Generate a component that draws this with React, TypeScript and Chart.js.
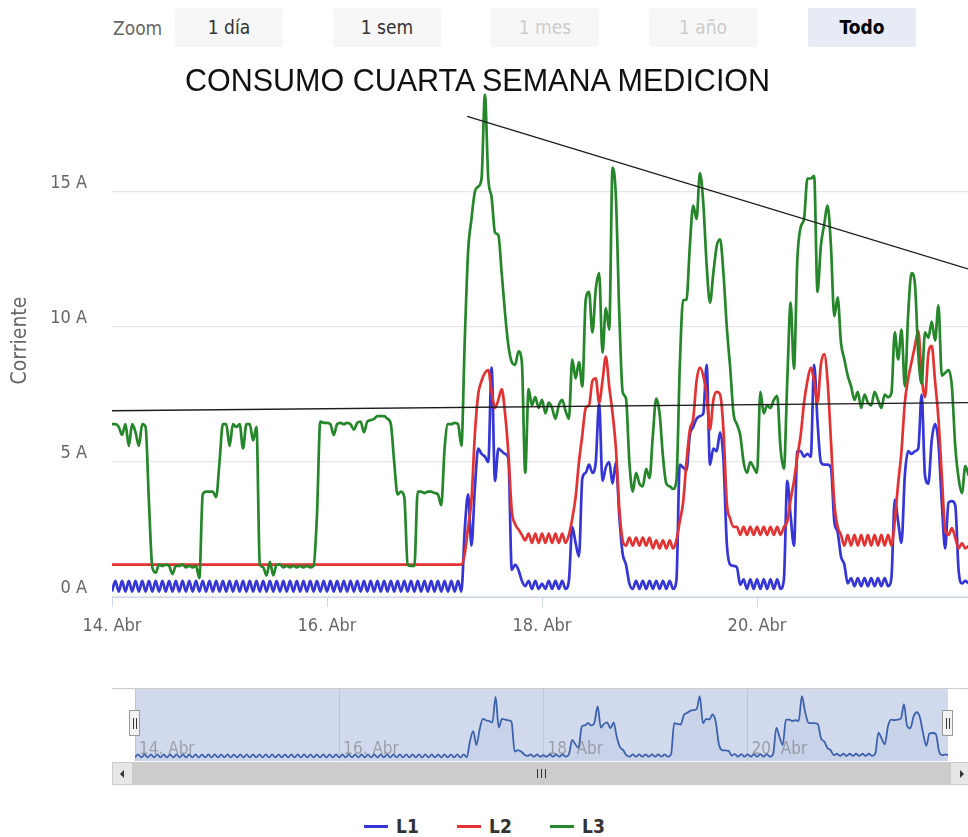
import React, { useEffect, useRef } from "react";
import { Chart, registerables } from "chart.js";

Chart.register(...registerables);

// ---- data (sampled every 45 minutes from 14. Abr 00:00) ----
const STEP_HOURS = 0.75;
const X_MAX_HOURS = 191.1;
const X_TICK_HOURS = [0, 48, 96, 144];
const X_TICK_LABELS = ["14. Abr", "16. Abr", "18. Abr", "20. Abr"];
const Y_TICKS = [0, 5, 10, 15];
const Y_MAX = 19;
const SERIES_NAMES = ["L1", "L2", "L3"];
const ZOOM_BUTTONS = ["1 día", "1 sem", "1 mes", "1 año", "Todo"];

const L1 = [
  0.2,0.6,0.2,0.6,0.2,0.6,0.2,0.6,0.2,0.6,0.2,0.6,0.2,0.6,0.2,0.6,0.2,0.6,0.2,0.6,0.2,0.6,0.2,0.6,0.2,0.6,0.2,0.6,0.2,0.6,0.2,0.6,
  0.2,0.6,0.2,0.6,0.2,0.6,0.2,0.6,0.2,0.6,0.2,0.6,0.2,0.6,0.2,0.6,0.2,0.6,0.2,0.6,0.2,0.6,0.2,0.6,0.2,0.6,0.2,0.6,0.2,0.6,0.2,0.6,
  0.2,0.6,0.2,0.6,0.2,0.6,0.2,0.6,0.2,0.6,0.2,0.6,0.2,0.6,0.2,0.6,0.2,0.6,0.2,0.6,0.2,0.6,0.2,0.6,0.2,0.6,0.2,0.6,0.2,0.6,0.2,0.6,
  0.2,0.6,0.2,0.6,0.2,0.6,0.2,0.6,0.2,2.5,3.8,1.9,4.0,5.5,5.3,5.2,5.0,8.5,4.3,5.5,5.4,5.3,5.1,1.0,1.2,1.0,0.6,0.4,0.6,0.3,0.6,0.3,
  0.5,0.3,0.6,0.3,0.6,0.3,0.6,0.3,0.6,2.6,2.0,1.5,4.4,4.6,4.9,4.6,5.0,7.2,4.3,4.8,5.0,4.2,5.0,3.0,1.6,1.2,0.5,0.3,0.6,0.3,0.6,0.3,
  0.6,0.3,0.6,0.3,0.6,0.3,0.6,0.3,0.6,4.9,4.8,4.7,6.0,6.3,6.6,6.7,6.8,8.6,4.9,5.5,5.4,6.1,5.1,2.0,1.2,1.15,1.1,0.45,0.65,0.3,0.65,0.3,
  0.65,0.3,0.65,0.3,0.65,0.3,0.65,0.3,0.65,4.3,3.0,1.9,5.4,5.4,5.2,5.3,5.2,8.6,6.5,5.0,4.9,4.9,4.8,2.8,2.4,1.5,1.2,0.5,0.7,0.4,0.7,0.4,
  0.7,0.4,0.7,0.4,0.7,0.4,0.7,0.4,0.7,3.6,2.8,2.0,4.5,5.4,5.3,5.4,5.5,7.5,4.5,4.2,5.8,6.4,5.7,3.5,1.8,3.5,3.55,3.4,1.0,0.5,0.6,0.5,
];

const L2 = [
  1.2,1.2,1.2,1.2,1.2,1.2,1.2,1.2,1.2,1.2,1.2,1.2,1.2,1.2,1.2,1.2,1.2,1.2,1.2,1.2,1.2,1.2,1.2,1.2,1.2,1.2,1.2,1.2,1.2,1.2,1.2,1.2,
  1.2,1.2,1.2,1.2,1.2,1.2,1.2,1.2,1.2,1.2,1.2,1.2,1.2,1.2,1.2,1.2,1.2,1.2,1.2,1.2,1.2,1.2,1.2,1.2,1.2,1.2,1.2,1.2,1.2,1.2,1.2,1.2,
  1.2,1.2,1.2,1.2,1.2,1.2,1.2,1.2,1.2,1.2,1.2,1.2,1.2,1.2,1.2,1.2,1.2,1.2,1.2,1.2,1.2,1.2,1.2,1.2,1.2,1.2,1.2,1.2,1.2,1.2,1.2,1.2,
  1.2,1.2,1.2,1.2,1.2,1.2,1.2,1.2,1.2,1.6,2.6,3.6,6.0,7.5,8.0,8.3,8.4,7.6,7.0,7.3,7.7,6.8,5.3,3.2,2.7,2.5,2.3,2.1,2.35,2.0,2.35,2.0,
  2.35,2.0,2.35,2.0,2.35,2.0,2.35,2.0,2.3,2.9,3.7,5.0,6.0,7.0,7.1,8.0,8.1,7.2,8.0,8.9,7.8,6.8,5.5,3.3,2.1,1.9,2.2,1.9,2.2,1.9,2.2,1.9,
  2.2,1.8,2.1,1.8,2.1,1.8,2.1,1.8,2.1,2.8,3.5,5.0,6.2,6.6,8.0,8.5,8.2,7.5,6.2,7.3,7.6,7.5,6.2,3.5,2.9,2.6,2.6,2.3,2.6,2.3,2.6,2.3,
  2.6,2.3,2.6,2.3,2.6,2.3,2.6,2.3,2.6,2.8,3.6,4.3,5.2,6.0,7.2,8.0,8.5,8.0,7.2,8.6,9.0,8.0,5.8,3.5,2.6,2.3,1.9,2.3,1.9,2.3,1.9,2.3,
  1.9,2.3,1.9,2.3,1.9,2.3,1.9,2.3,1.9,2.8,4.2,5.4,7.2,8.1,8.7,9.3,9.85,8.2,7.4,9.0,9.3,8.0,6.6,4.5,2.5,2.3,2.55,2.2,1.8,2.0,1.8,1.9,
];

const L3 = [
  6.4,6.4,6.3,6.0,6.4,5.6,6.4,6.1,5.6,6.4,6.3,3.5,1.1,0.9,1.2,1.15,1.2,1.15,0.85,1.15,1.15,1.2,1.1,1.15,1.1,1.15,0.7,3.8,3.9,3.9,3.9,3.7,
  5.0,6.4,6.4,5.6,6.4,6.3,6.4,5.5,6.4,6.4,5.8,6.3,1.2,1.1,0.8,1.3,0.8,1.2,1.2,1.1,1.15,1.1,1.15,1.1,1.15,1.1,1.15,1.1,1.15,3.0,6.5,6.45,
  6.45,6.4,6.0,6.4,6.45,6.4,6.45,6.4,6.2,6.45,6.5,6.1,6.5,6.55,6.6,6.7,6.7,6.7,6.6,6.4,5.0,3.8,3.9,3.7,1.2,1.15,1.15,3.9,3.9,3.85,3.9,3.9,
  3.85,3.8,3.4,5.5,6.4,6.4,6.45,6.4,5.6,9.5,12.8,14.0,15.0,15.2,15.5,18.6,15.5,14.8,13.5,13.4,12.0,10.5,9.3,8.7,8.6,9.1,8.7,4.6,7.7,7.1,7.4,7.0,
  7.3,6.8,7.2,7.0,6.6,7.1,7.3,6.9,6.6,8.8,8.1,8.7,7.8,11.0,11.3,9.8,11.4,12.0,9.05,10.7,9.9,15.9,14.8,10.5,7.6,7.35,5.0,3.9,4.6,4.2,4.1,4.75,
  4.4,6.0,7.35,6.8,5.2,4.2,4.1,4.0,4.3,8.5,11.0,11.0,13.0,14.5,14.0,15.7,14.6,12.3,10.9,12.0,13.0,13.25,12.0,10.0,8.5,6.8,6.4,6.0,5.0,4.6,5.0,4.8,
  4.6,7.6,6.8,7.1,7.0,7.3,7.45,5.5,4.75,8.0,10.9,8.45,12.5,13.7,14.0,15.5,15.5,15.6,11.3,13.0,13.8,14.5,13.0,10.4,11.1,9.4,8.8,8.2,7.8,7.3,7.6,7.0,
  7.5,7.2,7.1,7.6,7.3,7.0,7.5,7.4,7.55,9.8,8.8,9.9,7.8,10.5,12.0,11.6,9.0,7.9,9.8,9.6,10.2,9.5,10.8,8.2,8.3,8.4,7.8,5.6,4.4,3.85,4.85,4.5,
];

// hand-drawn trend lines (hours, amperes)
const TREND_PEAK_HOURS = [79.3, 191.1];
const TREND_PEAK_AMPS = [17.8, 12.15];
const TREND_BASE_HOURS = [0, 191.1];
const TREND_BASE_AMPS = [6.9, 7.2];

const COLORS = ["#3535d8", "#e33232", "#25862a"];
const FONT = '"DejaVu Sans Condensed", "DejaVu Sans", sans-serif';

function toPoints(hours: number[] | null, values: number[]) {
  return values.map((v, i) => ({ x: hours ? hours[i] : i * STEP_HOURS, y: v }));
}

export default function App() {
  const mainRef = useRef<HTMLCanvasElement>(null);
  const navRef = useRef<HTMLCanvasElement>(null);

  useEffect(() => {
    const series = [L1, L2, L3];
    const main = new Chart(mainRef.current as HTMLCanvasElement, {
      type: "line",
      data: {
        datasets: [
          ...series.map((s, i) => ({
            label: SERIES_NAMES[i],
            data: toPoints(null, s),
            borderColor: COLORS[i],
            backgroundColor: COLORS[i],
            borderWidth: 2.7,
            pointRadius: 0,
            cubicInterpolationMode: "monotone" as const,
            borderJoinStyle: "round" as const,
            order: 3 - i,
          })),
          {
            label: "trend1",
            data: toPoints(TREND_PEAK_HOURS, TREND_PEAK_AMPS),
            borderColor: "#1c1c1c",
            borderWidth: 1.4,
            pointRadius: 0,
            order: 0,
          },
          {
            label: "trend2",
            data: toPoints(TREND_BASE_HOURS, TREND_BASE_AMPS),
            borderColor: "#1c1c1c",
            borderWidth: 1.4,
            pointRadius: 0,
            order: 0,
          },
        ],
      },
      options: {
        animation: false,
        responsive: false,
        maintainAspectRatio: false,
        layout: { padding: { top: 84, left: 0, right: 0, bottom: 0 } },
        plugins: { legend: { display: false }, tooltip: { enabled: false }, title: { display: false } },
        scales: {
          x: {
            type: "linear",
            min: 0,
            max: X_MAX_HOURS,
            afterBuildTicks: (s: any) => {
              s.ticks = X_TICK_HOURS.map((v) => ({ value: v }));
            },
            afterFit: (s: any) => {
              s.height = 40;
            },
            grid: { drawOnChartArea: false, drawTicks: true, tickLength: 10, color: "#ccd6eb" },
            border: { color: "#ccd6eb", width: 1 },
            ticks: {
              autoSkip: false,
              maxRotation: 0,
              padding: 9,
              color: "#666666",
              font: { family: FONT, size: 18 },
              callback: (v: any) => {
                const k = X_TICK_HOURS.indexOf(Number(v));
                return k >= 0 ? X_TICK_LABELS[k] : "";
              },
            },
          },
          y: {
            min: 0,
            max: Y_MAX,
            afterBuildTicks: (s: any) => {
              s.ticks = Y_TICKS.map((v) => ({ value: v }));
            },
            afterFit: (s: any) => {
              s.width = 112;
            },
            grid: { color: "#e6e6e6", drawTicks: false, lineWidth: 1.2 },
            border: { display: false },
            ticks: {
              padding: 25,
              labelOffset: -9,
              color: "#666666",
              font: { family: FONT, size: 18 },
              callback: (v: any) => `${v} A`,
            },
            title: {
              display: true,
              text: "Corriente",
              color: "#666666",
              font: { family: FONT, size: 21 },
              padding: { top: 8, bottom: 0 },
            },
          },
        },
      },
    });

    const navPlugin = {
      id: "navMask",
      beforeDatasetsDraw(chart: any) {
        const { ctx, chartArea } = chart;
        ctx.save();
        ctx.fillStyle = "rgba(102,133,194,0.3)";
        ctx.fillRect(chartArea.left, chartArea.top, chartArea.right - chartArea.left, chartArea.bottom - chartArea.top);
        ctx.restore();
      },
      afterDatasetsDraw(chart: any) {
        const { ctx } = chart;
        const xs = chart.scales.x;
        ctx.save();
        ctx.fillStyle = "rgba(110,110,110,0.55)";
        ctx.font = `17px ${FONT}`;
        ctx.textAlign = "left";
        ctx.textBaseline = "middle";
        X_TICK_HOURS.forEach((h, i) => {
          ctx.fillText(X_TICK_LABELS[i], xs.getPixelForValue(h) + 4, 61);
        });
        ctx.restore();
      },
    };

    const nav = new Chart(navRef.current as HTMLCanvasElement, {
      type: "line",
      data: {
        datasets: [
          {
            label: "nav",
            data: toPoints(null, L1),
            borderColor: "#3d62ad",
            backgroundColor: "rgba(51,92,173,0.06)",
            fill: "start",
            borderWidth: 1.8,
            pointRadius: 0,
            cubicInterpolationMode: "monotone" as const,
          },
        ],
      },
      options: {
        animation: false,
        responsive: false,
        maintainAspectRatio: false,
        layout: { padding: { top: 0, left: 135, right: 20, bottom: 0 } },
        plugins: { legend: { display: false }, tooltip: { enabled: false } },
        scales: {
          x: {
            type: "linear",
            min: 0,
            max: X_MAX_HOURS,
            afterBuildTicks: (s: any) => {
              s.ticks = X_TICK_HOURS.map((v) => ({ value: v }));
            },
            afterFit: (s: any) => {
              s.height = 0;
            },
            grid: { color: "#dfe3ea", drawTicks: false },
            border: { display: false },
            ticks: { display: false },
          },
          y: { display: false, min: -0.3, max: 9.6 },
        },
      },
      plugins: [navPlugin],
    });

    return () => {
      main.destroy();
      nav.destroy();
    };
  }, []);

  const btnLefts = [175, 333, 491, 649, 808];
  const legendLefts = [364, 457, 550];

  return (
    <div
      style={{
        position: "absolute",
        left: 0,
        top: 0,
        width: 968,
        height: 837,
        overflow: "hidden",
        background: "#ffffff",
        fontFamily: FONT,
      }}
    >
      {/* range selector */}
      <div style={{ position: "absolute", left: 113, top: 16, fontSize: 19, color: "#666", lineHeight: "24px" }}>Zoom</div>
      {ZOOM_BUTTONS.map((b, i) => {
        const disabled = i === 2 || i === 3;
        const selected = i === 4;
        return (
          <div
            key={b}
            style={{
              position: "absolute",
              left: btnLefts[i],
              top: 8,
              width: 108,
              height: 39,
              lineHeight: "39px",
              textAlign: "center",
              fontSize: 19,
              borderRadius: 2,
              background: selected ? "#e6ebf5" : "#f7f7f7",
              color: disabled ? "#cccccc" : selected ? "#000" : "#333",
              fontWeight: selected ? "bold" : "normal",
            }}
          >
            {b}
          </div>
        );
      })}

      <canvas
        ref={mainRef}
        width={968}
        height={637}
        style={{ position: "absolute", left: 0, top: 0, width: 968, height: 637 }}
      />

      {/* title */}
      <div
        style={{
          position: "absolute",
          left: 0,
          top: 62,
          width: 955,
          textAlign: "center",
          fontFamily: '"Liberation Sans", Arial, sans-serif',
          fontSize: 30.5,
          lineHeight: "36px",
          color: "#111",
        }}
      >
        CONSUMO CUARTA SEMANA MEDICION
      </div>

      {/* navigator */}
      <div style={{ position: "absolute", left: 112, top: 688, width: 856, height: 0, borderTop: "1px solid #cccccc" }} />
      <canvas
        ref={navRef}
        width={968}
        height={72}
        style={{ position: "absolute", left: 0, top: 689, width: 968, height: 72 }}
      />
      {[135, 948].map((x) => (
        <div
          key={x}
          style={{
            position: "absolute",
            left: x - 6,
            top: 710,
            width: 11,
            height: 26,
            background: "#f2f2f2",
            border: "1px solid #999",
            boxSizing: "border-box",
          }}
        >
          <div style={{ position: "absolute", left: 3, top: 7, width: 1, height: 11, background: "#333" }} />
          <div style={{ position: "absolute", left: 6, top: 7, width: 1, height: 11, background: "#333" }} />
        </div>
      ))}

      {/* scrollbar */}
      <div style={{ position: "absolute", left: 112, top: 762, width: 856, height: 23, background: "#f2f2f2" }} />
      <div style={{ position: "absolute", left: 133, top: 762, width: 817, height: 23, background: "#cccccc" }}>
        {[0, 4, 8].map((d) => (
          <div key={d} style={{ position: "absolute", left: 404 + d, top: 7, width: 1, height: 9, background: "#333" }} />
        ))}
      </div>
      <div style={{ position: "absolute", left: 112, top: 762, width: 21, height: 23, background: "#e6e6e6", border: "1px solid #cccccc", boxSizing: "border-box" }}>
        <div style={{ position: "absolute", left: 7, top: 7, width: 0, height: 0, borderTop: "4px solid transparent", borderBottom: "4px solid transparent", borderRight: "4px solid #333" }} />
      </div>
      <div style={{ position: "absolute", left: 950, top: 762, width: 21, height: 23, background: "#e6e6e6", border: "1px solid #cccccc", boxSizing: "border-box" }}>
        <div style={{ position: "absolute", left: 9, top: 7, width: 0, height: 0, borderTop: "4px solid transparent", borderBottom: "4px solid transparent", borderLeft: "4px solid #333" }} />
      </div>

      {/* legend */}
      {SERIES_NAMES.map((n, i) => (
        <div key={n} style={{ position: "absolute", left: legendLefts[i], top: 813, height: 26, display: "flex", alignItems: "center" }}>
          <div style={{ width: 24, height: 3, background: COLORS[i], marginRight: 8 }} />
          <span style={{ fontSize: 19, fontWeight: "bold", color: "#333" }}>{n}</span>
        </div>
      ))}
    </div>
  );
}
